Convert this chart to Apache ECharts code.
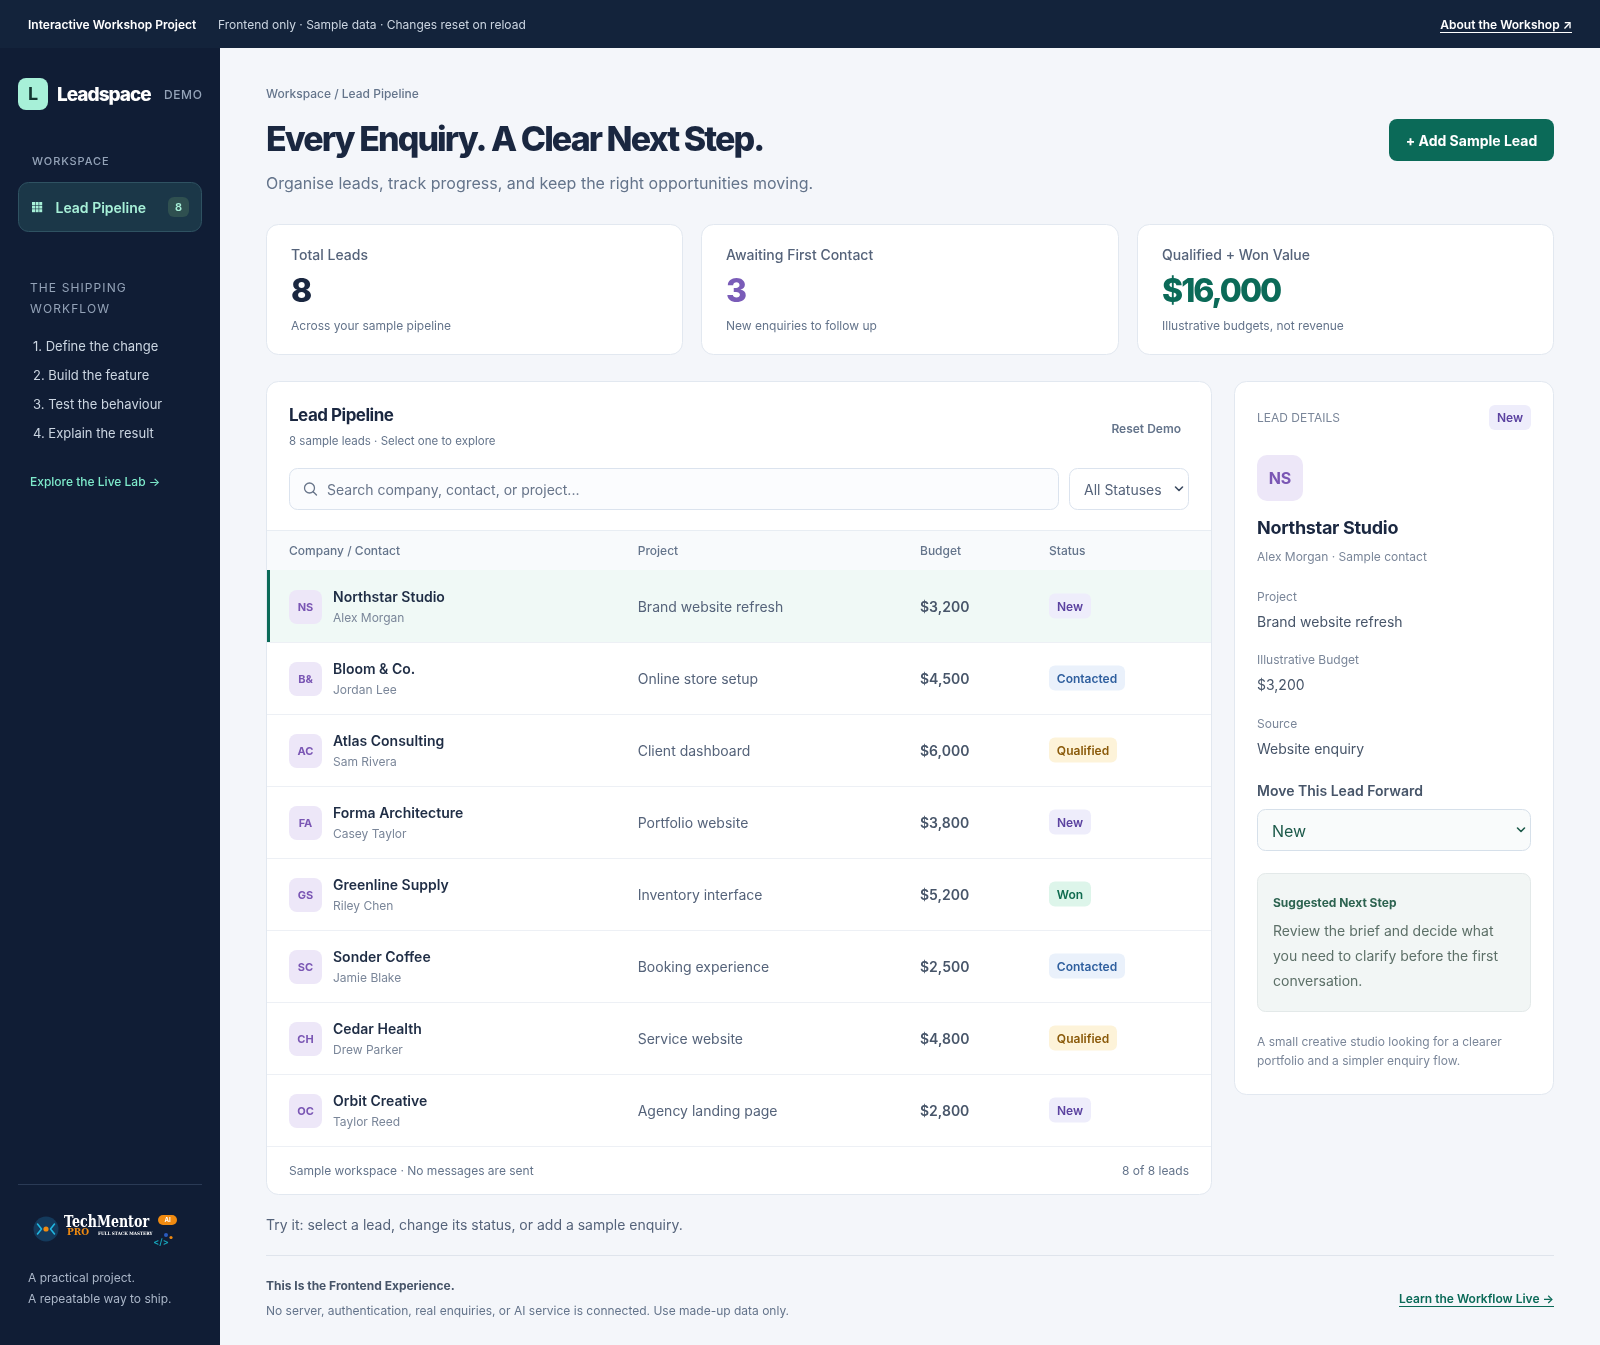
<!DOCTYPE html>
<html>
<head>
	<meta charset="UTF-8">
	<title>Leadspace</title>
	<style>
		html, body { margin: 0; padding: 0; background: #f4f6fa; }
		#container { width: 1600px; height: 1345px; }
	</style>
</head>
<body>
	<div id="container"></div>
	<script src="https://cdn.jsdelivr.net/npm/echarts@6/dist/echarts.min.js"></script>
	<script>
		// table data
		var companies = ['Northstar Studio', 'Bloom & Co.', 'Atlas Consulting', 'Forma Architecture', 'Greenline Supply', 'Sonder Coffee', 'Cedar Health', 'Orbit Creative'];
		var contacts = ['Alex Morgan', 'Jordan Lee', 'Sam Rivera', 'Casey Taylor', 'Riley Chen', 'Jamie Blake', 'Drew Parker', 'Taylor Reed'];
		var initials = ['NS', 'B&', 'AC', 'FA', 'GS', 'SC', 'CH', 'OC'];
		var projects = ['Brand website refresh', 'Online store setup', 'Client dashboard', 'Portfolio website', 'Inventory interface', 'Booking experience', 'Service website', 'Agency landing page'];
		var budgets = [3200, 4500, 6000, 3800, 5200, 2500, 4800, 2800];
		var statuses = ['New', 'Contacted', 'Qualified', 'New', 'Won', 'Contacted', 'Qualified', 'New'];
		var columns = ['Company / Contact', 'Project', 'Budget', 'Status'];
		var steps = ['1. Define the change', '2. Build the feature', '3. Test the behaviour', '4. Explain the result'];
		var cardLabels = ['Total Leads', 'Awaiting First Contact', 'Qualified + Won Value'];
		var cardValues = ['8', '3', '$16,000'];
		var cardNotes = ['Across your sample pipeline', 'New enquiries to follow up', 'Illustrative budgets, not revenue'];

		var FONT = 'Inter, "Noto Sans", sans-serif';
		var badgeStyle = {
			New: { bg: '#eeedfb', fg: '#5b42a0', w: 42 },
			Contacted: { bg: '#eaf1fb', fg: '#2f5f9e', w: 76 },
			Qualified: { bg: '#fdf3d9', fg: '#8a5a0a', w: 68 },
			Won: { bg: '#ddf5ea', fg: '#0f6b4f', w: 42 }
		};

		// zrender has no letter spacing, so set it on the context per text
		var spacing = {};
		var fillTextOrig = CanvasRenderingContext2D.prototype.fillText;
		CanvasRenderingContext2D.prototype.fillText = function (t, x, y) {
			var m = /(\d+(\.\d+)?)px/.exec(this.font);
			var ls = spacing[t + '|' + (m ? parseFloat(m[1]) : '')];
			this.letterSpacing = (ls || 0) + 'px';
			fillTextOrig.call(this, t, x, y);
		};

		function txt(x, y, text, size, weight, color, opt) {
			opt = opt || {};
			if (opt.ls) {
				spacing[text + '|' + size] = opt.ls;
			}
			return {
				type: 'text', x: x, y: y + 1, scaleX: opt.sx || 1, z: opt.z || 10, silent: true,
				style: {
					text: text, x: 0, y: 0, fill: color, fontFamily: opt.font || FONT, fontSize: size, fontWeight: weight,
					textAlign: opt.align || 'left', textVerticalAlign: 'middle'
				}
			};
		}
		function box(x, y, w, h, r, fill, stroke, z) {
			return {
				type: 'rect', z: z || 1, silent: true,
				shape: { x: x, y: y, width: w, height: h, r: r || 0 },
				style: { fill: fill, stroke: stroke || null, lineWidth: stroke ? 1 : 0 }
			};
		}
		function line(x1, y1, x2, y2, color, w) {
			return {
				type: 'line', z: 2, silent: true,
				shape: { x1: x1, y1: y1, x2: x2, y2: y2 },
				style: { stroke: color, lineWidth: w || 1 }
			};
		}
		function poly(points, color, w, z) {
			return {
				type: 'polyline', z: z || 5, silent: true,
				shape: { points: points },
				style: { stroke: color, lineWidth: w || 1.5, fill: null, lineCap: 'round', lineJoin: 'round' }
			};
		}
		function circle(cx, cy, r, fill, stroke) {
			return {
				type: 'circle', z: 5, silent: true,
				shape: { cx: cx, cy: cy, r: r },
				style: { fill: fill, stroke: stroke || null, lineWidth: stroke ? 1.5 : 0 }
			};
		}
		function badge(x, y, label) {
			var b = badgeStyle[label];
			return [
				box(x, y, b.w, 25, 6, b.bg, null, 5),
				txt(x + b.w / 2, y + 12.5, label, 12, 600, b.fg, { align: 'center' })
			];
		}

		var els = [];
		function add() { els = els.concat.apply(els, arguments); }

		// top bar and sidebar
		add(box(0, 48, 220, 1297, 0, '#101d35'), box(0, 0, 1600, 48, 0, '#13233b'));
		add(txt(28, 24, 'Interactive Workshop Project', 12, 600, '#ffffff'));
		add(txt(218, 24, 'Frontend only · Sample data · Changes reset on reload', 12, 400, '#cbd5e1'));
		add(txt(1572, 24, 'About the Workshop ↗', 12, 600, '#ffffff', { align: 'right' }), line(1440, 32.5, 1572, 32.5, '#ffffff'));

		add(box(18, 78, 30, 32, 8, '#a7f0d8'), txt(33, 94, 'L', 18, 700, '#12352f', { align: 'center' }));
		add(txt(57, 94.5, 'Leadspace', 19, 800, '#ffffff', { ls: -1 }));
		add(txt(164, 94, 'DEMO', 12, 500, '#94a3b8', { ls: 0.6 }));
		add(txt(32, 161, 'WORKSPACE', 11, 500, '#94a3b8', { ls: 0.9 }));
		add(box(18.5, 182.5, 183, 49, 10, '#1b3748', '#2f5262'));
		for (var gi = 0; gi < 3; gi++) {
			for (var gj = 0; gj < 3; gj++) {
				add(box(32 + gi * 3.6, 202 + gj * 3.6, 3, 3, 0, '#a7f0d8', null, 5));
			}
		}
		add(txt(55.5, 208, 'Lead Pipeline', 14, 600, '#a7f0d8'));
		add(box(168, 197, 21, 20, 6, '#2f5050', null, 5), txt(178.5, 207, '8', 11, 600, '#a7f0d8', { align: 'center' }));
		add(txt(30, 287, 'THE SHIPPING', 12, 400, '#94a3b8', { ls: 1.1 }), txt(30, 308, 'WORKFLOW', 12, 400, '#94a3b8', { ls: 1.1 }));
		steps.forEach(function (s, i) {
			add(txt(33, 346.5 + i * 29, s, 13, 400, '#cbd5e1'));
		});
		add(txt(30, 481.5, 'Explore the Live Lab →', 12, 500, '#7eeacb'));

		// brand block at the foot of the sidebar
		add(line(18, 1184.5, 202, 1184.5, '#2a3a55'));
		add(circle(46, 1229, 12.5, '#143a5c'), circle(46, 1229, 2.6, '#f08a10'));
		add(poly([[37.5, 1224], [41.5, 1229], [37.5, 1234]], '#21b6e0', 1.6), poly([[54.5, 1224], [50.5, 1229], [54.5, 1234]], '#21b6e0', 1.6));
		add(txt(64, 1222, 'TechMentor', 16, 700, '#ffffff', { font: '"DejaVu Serif", serif', sx: 0.79 }));
		add(txt(67, 1232, 'PRO', 9, 700, '#f08a10', { font: '"DejaVu Serif", serif' }));
		add(txt(98, 1233, 'FULL STACK MASTERY', 4.5, 700, '#ffffff', { font: '"DejaVu Serif", serif', sx: 0.92 }));
		add(box(158, 1215, 19, 10, 5, '#f08a10', null, 5), txt(167.5, 1219, 'AI', 6, 700, '#ffffff', { align: 'center' }));
		add(circle(166, 1235, 2, '#2a5bc0'), circle(171, 1237.5, 1.6, '#f08a10'));
		add(txt(161, 1241, '</>', 9, 600, '#16a3b8', { align: 'center' }));
		add(txt(28, 1277.7, 'A practical project.', 12, 400, '#aab6c8'), txt(28, 1298.7, 'A repeatable way to ship.', 12, 400, '#aab6c8'));

		// heading
		add(txt(266, 93.5, 'Workspace / Lead Pipeline', 12, 500, '#64748b'));
		add(txt(266, 140, 'Every Enquiry. A Clear Next Step.', 34, 800, '#1a2740', { ls: -1.93 }));
		add(txt(266, 183.5, 'Organise leads, track progress, and keep the right opportunities moving.', 16, 400, '#64748b'));
		add(box(1389, 119, 165, 42, 8, '#0b6a58'), txt(1471.5, 141, '+ Add Sample Lead', 14, 700, '#ffffff', { align: 'center' }));

		// summary cards
		var cardX = [266, 701, 1137];
		var cardW = [416, 417, 416];
		var cardColor = ['#1a2740', '#7a5cb8', '#0b6a58'];
		cardLabels.forEach(function (label, i) {
			add(box(cardX[i] + 0.5, 224.5, cardW[i], 130, 12, '#ffffff', '#e2e8f0'));
			add(txt(cardX[i] + 25, 255, label, 14, 500, '#55637a'));
			add(txt(cardX[i] + 25, 291.5, cardValues[i], 32, 800, cardColor[i], { ls: -2 }));
			add(txt(cardX[i] + 25, 325.5, cardNotes[i], 12, 400, '#64748b'));
		});

		// pipeline panel
		add(box(266.5, 381.5, 945, 813, 12, '#ffffff', '#e2e8f0'));
		add(txt(289, 415, 'Lead Pipeline', 17, 700, '#1a2740', { ls: -0.5 }));
		add(txt(289, 441, '8 sample leads · Select one to explore', 11.5, 400, '#64748b'));
		add(txt(1181, 428.7, 'Reset Demo', 12, 600, '#64748b', { align: 'right' }));
		add(box(289.5, 468.5, 769, 41, 8, '#fbfcfe', '#dbe3ee'));
		add({
			type: 'circle', z: 5, silent: true, shape: { cx: 309.5, cy: 488, r: 5 },
			style: { fill: null, stroke: '#68758a', lineWidth: 1.3 }
		}, poly([[313.2, 491.7], [316.5, 495]], '#68758a', 1.3));
		add(txt(327, 490, 'Search company, contact, or project...', 14, 400, '#68758a'));
		add(box(1069.5, 468.5, 119, 41, 8, '#ffffff', '#dbe3ee'));
		add(txt(1084, 490, 'All Statuses', 14, 400, '#55637a'));
		add(poly([[1175.5, 487], [1179, 490.5], [1182.5, 487]], '#3b4a60', 1.6));
		add(box(267, 530.5, 944, 40, 0, '#f8fafc'), line(267, 530.5, 1211, 530.5, '#e8edf3'), line(267, 570.5, 1211, 570.5, '#e2e8f0'));
		var colX = [289, 637.7, 920, 1049];
		columns.forEach(function (c, i) {
			add(txt(colX[i], 550.7, c, 12, 500, '#64748b'));
		});
		add(line(267, 1146.5, 1211, 1146.5, '#edf0f5'));
		add(txt(289, 1170, 'Sample workspace · No messages are sent', 12, 400, '#64748b'));
		add(txt(1189, 1170, '8 of 8 leads', 12, 400, '#64748b', { align: 'right' }));

		// footer
		add(txt(266, 1224.5, 'Try it: select a lead, change its status, or add a sample enquiry.', 14, 400, '#55637a'));
		add(line(266, 1255.5, 1554, 1255.5, '#dfe4ec'));
		add(txt(266, 1285.5, 'This Is the Frontend Experience.', 12, 700, '#475569'));
		add(txt(266, 1310.5, 'No server, authentication, real enquiries, or AI service is connected. Use made-up data only.', 12, 400, '#64748b'));
		add(txt(1554, 1298, 'Learn the Workflow Live →', 12, 600, '#0b6a58', { align: 'right' }), line(1399, 1306.5, 1554, 1306.5, '#0b6a58'));

		// details panel
		var dx = 1257;
		add(box(1234.5, 381.5, 319, 713, 12, '#ffffff', '#e2e8f0'));
		add(txt(dx, 417.7, 'LEAD DETAILS', 12, 400, '#7a8699'));
		add(badge(1489, 405, statuses[0]));
		add(box(dx, 455, 46, 46, 10, '#ede7f8'), txt(dx + 23, 478, initials[0], 16, 700, '#7a56b4', { align: 'center' }));
		add(txt(dx, 527.7, companies[0], 18, 700, '#1a2740', { ls: -0.3 }));
		add(txt(dx, 556, contacts[0] + ' · Sample contact', 12, 400, '#7a8699'));
		add(txt(dx, 596.5, 'Project', 12, 400, '#7a8699'), txt(dx, 622, projects[0], 14, 400, '#475569'));
		add(txt(dx, 659.5, 'Illustrative Budget', 12, 400, '#7a8699'), txt(dx, 685, '$3,200', 14, 400, '#475569'));
		add(txt(dx, 723.5, 'Source', 12, 400, '#7a8699'), txt(dx, 749, 'Website enquiry', 14, 400, '#475569'));
		add(txt(dx, 791, 'Move This Lead Forward', 14, 600, '#475569'));
		add(box(dx + 0.5, 809.5, 273, 41, 8, '#f9fbfb', '#d6e0ea'));
		add(txt(dx + 15, 831, statuses[0], 16, 400, '#1d5a4a'));
		add(poly([[1517.5, 828], [1521, 831.5], [1524.5, 828]], '#1d5a4a', 1.6));
		add(box(dx + 0.5, 873.5, 273, 138, 8, '#f2f6f5', '#e3e9e9'));
		add(txt(dx + 16, 902, 'Suggested Next Step', 12, 700, '#2d6350'));
		add(txt(dx + 16, 931, 'Review the brief and decide what', 14, 400, '#5d7068'));
		add(txt(dx + 16, 956, 'you need to clarify before the first', 14, 400, '#5d7068'));
		add(txt(dx + 16, 981, 'conversation.', 14, 400, '#5d7068'));
		add(txt(dx, 1041.7, 'A small creative studio looking for a clearer', 12, 400, '#7a8699'));
		add(txt(dx, 1060.7, 'portfolio and a simpler enquiry flow.', 12, 400, '#7a8699'));

		function money(v) {
			return '$' + String(v).replace(/\B(?=(\d{3})+$)/g, ',');
		}

		// one table row, placed by the category axis
		function renderRow(params, api) {
			var i = api.value(1);
			var cy = api.coord([0, i])[1];
			var band = api.size([0, 1])[1];
			var top = cy - band / 2;
			var kids = [];
			if (i === 0) {
				kids.push(box(267, top, 944, band, 0, '#f0f9f6'));
				kids.push(box(267, top, 3, band, 0, '#0b6a58'));
			}
			kids.push(line(267, top + band + 0.5, 1211, top + band + 0.5, '#edf0f5'));
			kids.push(box(289, cy - 16, 33, 34, 8, '#ede7f8'));
			kids.push(txt(305.5, cy + 0.5, initials[i], 11, 700, '#7a56b4', { align: 'center' }));
			kids.push(txt(333, cy - 9, companies[i], 14, 600, '#1f2d45'));
			kids.push(txt(333, cy + 11, contacts[i], 12, 400, '#7a8699'));
			kids.push(txt(637.7, cy + 1, projects[i], 14, 400, '#55637a'));
			kids.push(txt(920, cy + 1, money(budgets[i]), 14, 600, '#475569'));
			kids = kids.concat(badge(1049, cy - 12.5, statuses[i]));
			return { type: 'group', children: kids };
		}

		var dom = document.getElementById('container');
		var myChart = echarts.init(dom);
		var option = {
			animation: false,
			backgroundColor: '#f4f6fa',
			graphic: { elements: els },
			grid: { left: 267, top: 570, width: 944, height: 576 },
			xAxis: { type: 'value', min: 0, max: 1, show: false },
			yAxis: { type: 'category', inverse: true, show: false, data: companies },
			series: [{
				type: 'custom',
				clip: false,
				silent: true,
				z: 5,
				renderItem: renderRow,
				encode: { x: 0, y: 1 },
				data: budgets.map(function (b, i) { return [b, i]; })
			}]
		};
		myChart.setOption(option, true);
	</script>
</body>
</html>
